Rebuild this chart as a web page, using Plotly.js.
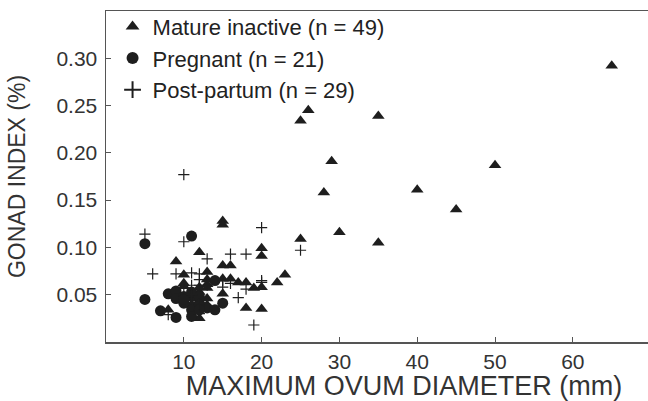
<!DOCTYPE html>
<html>
<head>
<meta charset="utf-8">
<script src="https://cdn.plot.ly/plotly-3.0.1.min.js"></script>
<style>html,body{margin:0;padding:0;overflow:hidden;background:#fff;width:648px;height:401px}</style>
</head>
<body>
<div id="chart" style="width:702px;height:401px"></div>
<script>
// Mature inactive (n = 49)
const matureX = [65,50,40,45,26,25,35,29,28,30,35,25,15,15,12,20,20,9,15,16,13,23,22,10,13,15,16,17,18,19,20,10,13,15,18,20,12,8,11,12,13,13,11,12,12,10,13,11,12];
const matureY = [0.292,0.187,0.161,0.140,0.245,0.234,0.239,0.191,0.158,0.116,0.105,0.109,0.128,0.124,0.095,0.099,0.091,0.085,0.081,0.081,0.074,0.071,0.063,0.071,0.066,0.067,0.067,0.063,0.063,0.057,0.058,0.059,0.057,0.051,0.036,0.035,0.025,0.034,0.046,0.053,0.046,0.039,0.039,0.044,0.037,0.062,0.061,0.040,0.058];
// Pregnant (n = 21)
const pregX = [5,11,5,8,9,9,10,10,11,12,13,14,15,7,9,11,11,12,12,14,10];
const pregY = [0.104,0.112,0.045,0.051,0.054,0.046,0.048,0.041,0.053,0.048,0.036,0.065,0.041,0.033,0.026,0.034,0.027,0.039,0.034,0.034,0.045];
// Post-partum (n = 29)
const postX = [10,20,25,5,10,16,18,13,6,9,11,12,11,12,15,18,20,17,19,8,12,12,13,15,10,11,12,16,20];
const postY = [0.177,0.121,0.097,0.114,0.106,0.093,0.093,0.088,0.072,0.072,0.073,0.072,0.060,0.060,0.065,0.056,0.063,0.047,0.018,0.029,0.030,0.066,0.060,0.058,0.057,0.050,0.040,0.062,0.065];

const names = ["Mature inactive (n = 49)", "Pregnant (n = 21)", "Post-partum (n = 29)"];
const xTicks = [10,20,30,40,50,60];
const yTicks = [0.05,0.10,0.15,0.20,0.25,0.30];

const ink = "#1e1e1e";
const fam = "Liberation Sans, Arial, sans-serif";
const traces = [
  {x: matureX, y: matureY, name: names[0], type: "scatter", mode: "markers",
   marker: {symbol: "triangle-up", size: 11, color: ink}},
  {x: pregX, y: pregY, name: names[1], type: "scatter", mode: "markers",
   marker: {symbol: "circle", size: 11, color: ink}},
  {x: postX, y: postY, name: names[2], type: "scatter", mode: "markers",
   marker: {symbol: "cross-thin", size: 8, color: ink, line: {color: ink, width: 1.2}}}
];

const axisFont = {family: fam, size: 21, color: "#333"};
const layout = {
  width: 702, height: 401,
  margin: {l: 106, r: 0, t: 11, b: 59},
  paper_bgcolor: "#fff", plot_bgcolor: "#fff",
  showlegend: true,
  legend: {x: 0.011, y: 1.016, xanchor: "left", yanchor: "top",
    bgcolor: "rgba(0,0,0,0)", font: {family: fam, size: 22, color: "#222"},
    itemsizing: "constant", tracegroupgap: 0},
  xaxis: {range: [0, 76.6], tickvals: xTicks, ticktext: xTicks.map(String),
    ticks: "inside", ticklen: 5, tickcolor: "#555", showgrid: false, zeroline: false,
    showline: true, linecolor: "#555", linewidth: 1.5, mirror: true,
    tickfont: axisFont, automargin: false,
    title: {text: "MAXIMUM OVUM DIAMETER (mm)", font: {family: fam, size: 27, color: "#333"}, standoff: 3}},
  yaxis: {range: [0, 0.35], tickvals: yTicks, ticktext: yTicks.map(v => v.toFixed(2)),
    ticks: "inside", ticklen: 5, tickcolor: "#555", showgrid: false, zeroline: false,
    showline: true, linecolor: "#555", linewidth: 1.5, mirror: false,
    tickfont: axisFont, automargin: false, ticklabelstandoff: 3,
    title: {text: "GONAD INDEX (%)", font: {family: fam, size: 23, color: "#333"}, standoff: 24}}
};
Plotly.newPlot("chart", traces, layout, {displayModeBar: false, staticPlot: true});
</script>
</body>
</html>
